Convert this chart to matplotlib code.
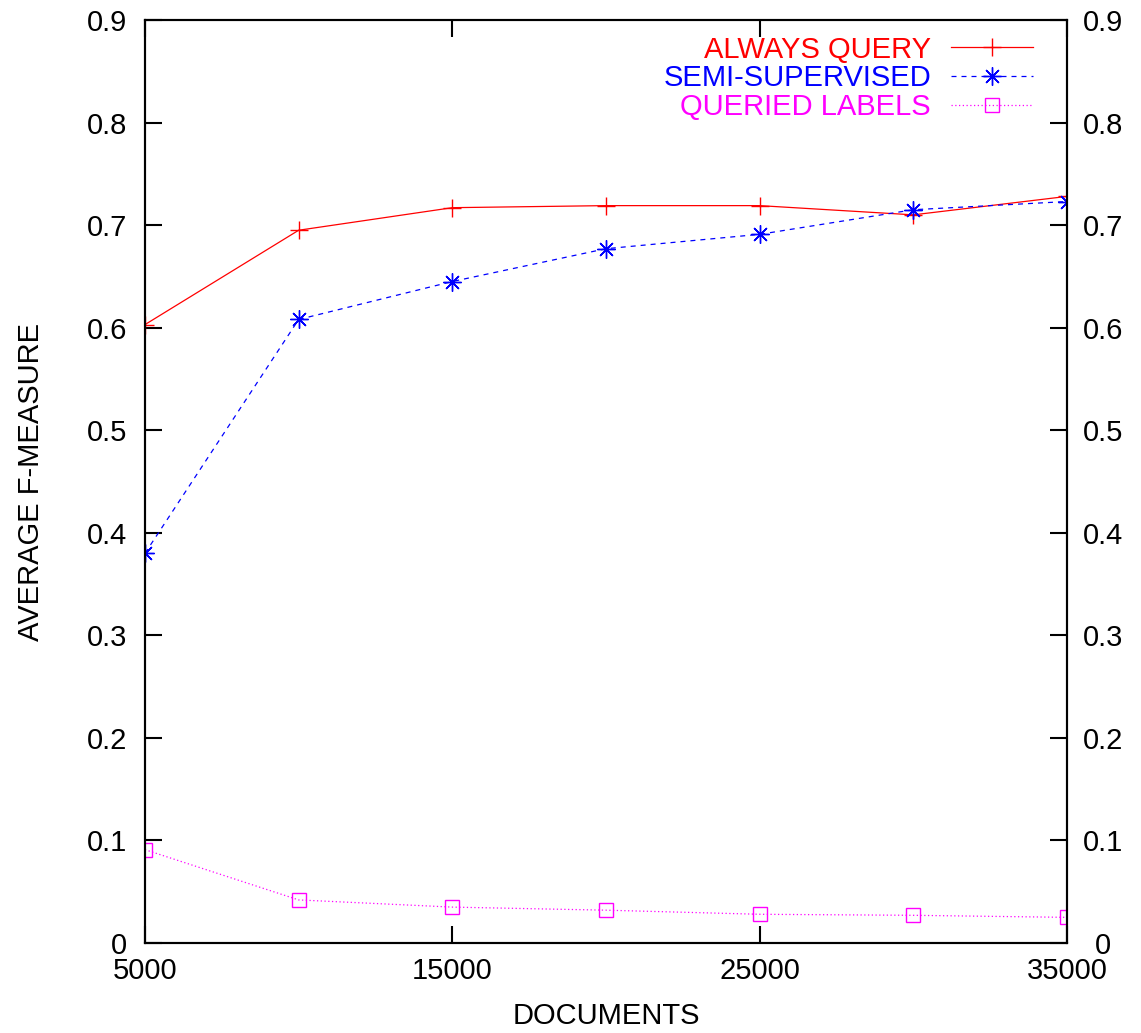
#!/usr/bin/env python3
"""Average F-measure vs. number of documents (gnuplot-style line chart)."""

import matplotlib
matplotlib.use("Agg")
import matplotlib.pyplot as plt

documents = [5000, 10000, 15000, 20000, 25000, 30000, 35000]
always_query = [0.603, 0.695, 0.717, 0.719, 0.719, 0.710, 0.728]
semi_supervised = [0.380, 0.608, 0.645, 0.677, 0.691, 0.715, 0.723]
queried_labels = [0.091, 0.042, 0.035, 0.032, 0.028, 0.027, 0.025]

x_ticks = [5000, 15000, 25000, 35000]
y_ticks = [0, 0.1, 0.2, 0.3, 0.4, 0.5, 0.6, 0.7, 0.8, 0.9]
y_tick_labels = ["0", "0.1", "0.2", "0.3", "0.4", "0.5", "0.6", "0.7", "0.8", "0.9"]

plt.rcParams["font.family"] = ["Liberation Sans", "DejaVu Sans"]
FS = 21

fig = plt.figure(figsize=(11.41, 10.33), dpi=100)
ax = fig.add_axes([145 / 1141, 90 / 1033, 922 / 1141, 923 / 1033])

ax.plot(documents, always_query, color="#ff0000", lw=0.9, marker="+",
        markersize=13, markeredgewidth=1.0, label="ALWAYS QUERY")
ax.plot(documents, semi_supervised, color="#0000ff", lw=0.9, ls=(0, (4, 4)),
        marker=(8, 2, 0), markersize=13, markeredgewidth=1.0,
        label="SEMI-SUPERVISED")
ax.plot(documents, queried_labels, color="#ff00ff", lw=0.9, ls=(0, (1, 2)),
        marker="s", markersize=10, markerfacecolor="none",
        markeredgewidth=1.0, label="QUERIED LABELS")

ax.set_xlim(5000, 35000)
ax.set_ylim(0, 0.9)
ax.set_xticks(x_ticks)
ax.set_xticklabels([str(t) for t in x_ticks])
ax.set_yticks(y_ticks)
ax.set_yticklabels(y_tick_labels)
ax.tick_params(direction="in", length=12, width=1.5, labelsize=FS,
               top=True, right=True)
ax.tick_params(axis="x", pad=10)
ax.tick_params(axis="y", pad=13)

# right-hand copy of the y labels, centred like gnuplot's y2 tics
ax2 = ax.twinx()
ax2.set_ylim(ax.get_ylim())
ax2.set_yticks(y_ticks)
ax2.set_yticklabels(y_tick_labels)
ax2.tick_params(axis="y", direction="in", length=12, width=1.5,
                labelsize=FS, pad=26)
for lbl in ax2.get_yticklabels():
    lbl.set_horizontalalignment("center")

for a in (ax, ax2):
    for spine in a.spines.values():
        spine.set_linewidth(1.5)

ax.set_xlabel("DOCUMENTS", fontsize=FS, labelpad=12)
ax.set_ylabel("AVERAGE F-MEASURE", fontsize=FS, labelpad=30)

ax.legend(loc="upper right", bbox_to_anchor=(0.979, 0.999), frameon=False,
          markerfirst=False, fontsize=FS, handlelength=2.8,
          labelcolor="linecolor", labelspacing=0.03, handletextpad=0.7,
          borderpad=0.0)

fig.savefig("out.png", dpi=100)
